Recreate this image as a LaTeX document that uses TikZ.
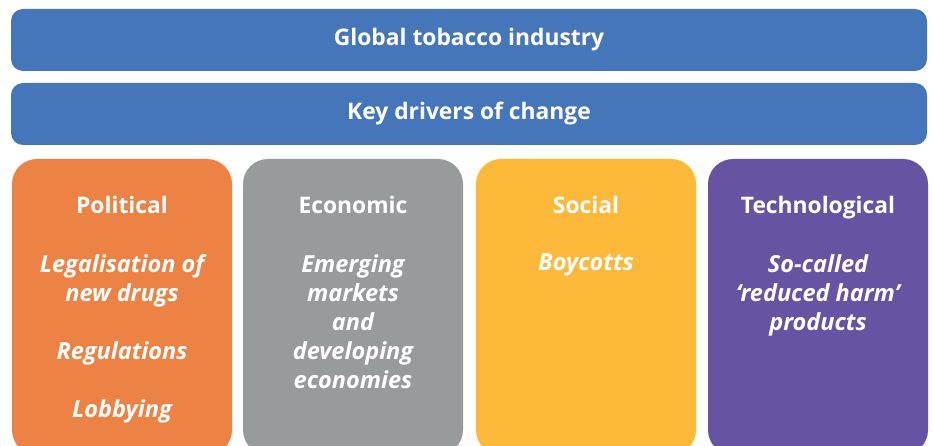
\documentclass[tikz,border=0pt]{standalone}
\usepackage{fontspec}
\setmainfont{Open Sans}
\definecolor{barblue}{HTML}{4676BA}
\definecolor{polorange}{HTML}{ED8245}
\definecolor{ecogray}{HTML}{989B9C}
\definecolor{socyellow}{HTML}{FCB93A}
\definecolor{techpurple}{HTML}{6653A1}
\begin{document}
\begin{tikzpicture}[x=1pt,y=-1pt,
  bar/.style={rounded corners=12pt, minimum width=916pt, minimum height=62pt, inner sep=0pt, text=white, font=\fontsize{22.8}{27}\selectfont\bfseries},
  drvbox/.style={rounded corners=25pt, minimum width=220pt, minimum height=296pt, inner sep=0pt},
  headtxt/.style={text=white, font=\fontsize{22.8}{27}\selectfont\bfseries, anchor=base},
  itemtxt/.style={text=white, font=\fontsize{23.5}{29}\selectfont\bfseries\itshape, align=center, anchor=north, inner sep=0pt}
]
\useasboundingbox (0,0) rectangle (933,446);
\clip (0,0) rectangle (933,446);
\node[bar, fill=barblue] (global) at (469,40) {Global tobacco industry};
\node[bar, fill=barblue] (drivers) at (469,114) {Key drivers of change};

\node[drvbox, fill=polorange] (pol) at (122,307) {};
\node[drvbox, fill=ecogray] (eco) at (353,307) {};
\node[drvbox, fill=socyellow] (soc) at (586,307) {};
\node[drvbox, fill=techpurple] (tech) at (818,307) {};

\node[headtxt] (polh) at (122,214) {Political};
\node[headtxt] (ecoh) at (353,214) {Economic};
\node[headtxt] (soch) at (586,214) {Social};
\node[headtxt] (techh) at (818,214) {Technological};

\node[itemtxt] (polt) at (122,254) {Legalisation of\\new drugs\\[29pt]Regulations\\[29pt]Lobbying};
\node[itemtxt] (ecot) at (353,254) {Emerging\\markets\\and\\developing\\economies};
\node[itemtxt] (soct) at (586,254) {Boycotts};
\node[itemtxt] (techt) at (818,254) {So-called\\‘reduced harm’\\products};
\end{tikzpicture}
\end{document}
